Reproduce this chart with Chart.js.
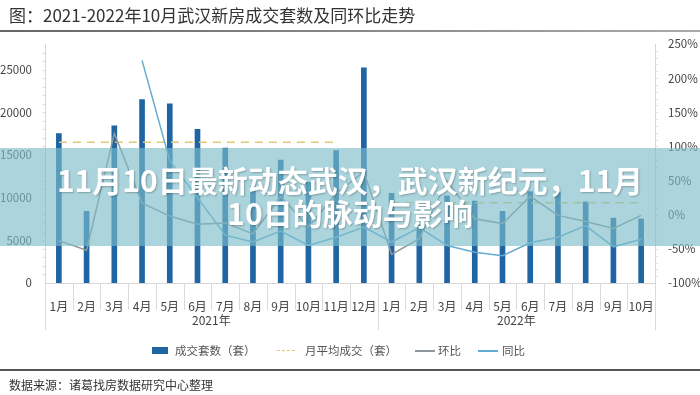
<!DOCTYPE html>
<html>
<head>
<meta charset="utf-8">
<script src="https://cdn.jsdelivr.net/npm/chart.js@4.4.0/dist/chart.umd.min.js"></script>
<style>
    body { margin: 0; background: #fff; font-family: "Noto Sans CJK SC", sans-serif; }
    #wrap { position: relative; width: 700px; height: 395px; overflow: hidden; }
    #chart { position: absolute; left: 0; top: 0; }
    #title { position: absolute; left: 9px; top: 4px; font-size: 17px; line-height: 22px; color: #333; }
    #rule1 { position: absolute; left: 0; top: 30px; width: 700px; height: 2px; background: linear-gradient(90deg, #666, #aaa); }
    #rule2 { position: absolute; left: 0; top: 369px; width: 700px; height: 2px; background: #555; }
    #source { position: absolute; left: 9px; top: 377px; font-size: 12px; line-height: 16px; color: #333; }
    .lg { position: absolute; top: 342px; font-size: 11.5px; line-height: 16px; color: #555; }
    .sw { position: absolute; }
    #banner { position: absolute; left: 0; top: 148px; width: 700px; height: 98px; background: rgba(123, 187, 200, 0.64);
              color: #fff; font-weight: bold; font-size: 30px; line-height: 33px; text-align: center;
              padding-top: 15px; box-sizing: border-box; text-shadow: 1px 1px 2px rgba(0,0,0,0.25); }
</style>
</head>
<body>
<div id="wrap">
    <canvas id="chart" width="700" height="395"></canvas>
    <div id="title">图：2021-2022年10月武汉新房成交套数及同环比走势</div>
    <div id="rule1"></div>

    <div class="sw" style="left:152px;top:347px;width:16px;height:7px;background:#1f65a3"></div>
    <div class="lg" style="left:175px">成交套数（套）</div>
    <div class="sw" style="left:277px;top:350px;width:18px;border-top:1.5px dashed #e3c878"></div>
    <div class="lg" style="left:305px">月平均成交（套）</div>
    <div class="sw" style="left:415px;top:350px;width:20px;height:1.5px;background:#8e969c"></div>
    <div class="lg" style="left:438px">环比</div>
    <div class="sw" style="left:478px;top:350px;width:20px;height:1.5px;background:#63acd0"></div>
    <div class="lg" style="left:502px">同比</div>

    <div id="rule2"></div>
    <div id="source">数据来源：诸葛找房数据研究中心整理</div>
    <div id="banner">11月10日最新动态武汉，武汉新纪元，11月<br>10日的脉动与影响</div>
</div>
<script>
    // categories
    const months2021 = ['1月', '2月', '3月', '4月', '5月', '6月', '7月', '8月', '9月', '10月', '11月', '12月'];
    const months2022 = ['1月', '2月', '3月', '4月', '5月', '6月', '7月', '8月', '9月', '10月'];
    const years = ['2021年', '2022年'];

    // 成交套数（套）
    const deals2021 = [17500, 8400, 18400, 21500, 21000, 18000, 15800, 11300, 14400, 11800, 15500, 25200];
    const deals2022 = [10500, 6800, 10200, 9600, 8400, 10700, 10600, 9500, 7600, 7500];

    // 月平均成交（套）
    const avg2021 = [16500, 16500, 16500, 16500, 16500, 16500, 16500, 16500, 16500, 16500, 16500, null];
    const avg2022 = [9400, 9400, 9400, 9400, 9400, 9400, 9400, 9400, 9400, 9400];

    // 环比 / 同比 (%)
    const hb2021 = [-38, -52, 119, 17, -2, -14, -12, -28, 27, -18, 31, 63];
    const hb2022 = [-58, -35, 50, -6, -13, 27, -1, -10, -20, -1];
    const tb2021 = [null, null, null, 226, 79, 25, -30, -40, -24, -45, -33, -18];
    const tb2022 = [-40, -19, -45, -55, -60, -41, -33, -16, -47, -36];

    // tick labels
    const leftTicks = [0, 5000, 10000, 15000, 20000, 25000];
    const rightTicks = [-100, -50, 0, 50, 100, 150, 200, 250];

    const labels = months2021.concat(months2022);
    const pad2021 = months2021.map(() => null);
    const pad2022 = months2022.map(() => null);

    const axisDecor = {
        id: 'axisDecor',
        afterDraw(chart) {
            const ctx = chart.ctx;
            const x = chart.scales.x;
            const yl = chart.scales.y;
            const yr = chart.scales.y1;
            const area = chart.chartArea;
            const step = x.getPixelForValue(1) - x.getPixelForValue(0);
            ctx.save();
            ctx.strokeStyle = '#dadada';
            ctx.lineWidth = 1;
            // separators under the months
            for (let i = 0; i <= labels.length; i++) {
                const px = Math.round(x.getPixelForValue(i) - step / 2) + 0.5;
                const edge = i === 0 || i === labels.length || i === months2021.length;
                ctx.beginPath();
                ctx.moveTo(px, area.bottom);
                ctx.lineTo(px, area.bottom + (edge ? 47 : 27));
                ctx.stroke();
            }
            // minor marks on both value axes
            ctx.strokeStyle = '#e2e2e2';
            for (let v = 1000; v < 28000; v += 1000) {
                const py = Math.round(yl.getPixelForValue(v)) + 0.5;
                ctx.beginPath(); ctx.moveTo(area.left - 3, py); ctx.lineTo(area.left, py); ctx.stroke();
            }
            for (let v = -90; v < 250; v += 10) {
                const py = Math.round(yr.getPixelForValue(v)) + 0.5;
                ctx.beginPath(); ctx.moveTo(area.right, py); ctx.lineTo(area.right + 3, py); ctx.stroke();
            }
            // year labels
            ctx.fillStyle = '#444';
            ctx.font = '12px "Noto Sans CJK SC"';
            ctx.textAlign = 'center';
            ctx.textBaseline = 'middle';
            const mid1 = (x.getPixelForValue(0) + x.getPixelForValue(months2021.length - 1)) / 2;
            const mid2 = (x.getPixelForValue(months2021.length) + x.getPixelForValue(labels.length - 1)) / 2;
            ctx.fillText(years[0], mid1, 320);
            ctx.fillText(years[1], mid2, 320);
            ctx.restore();
        }
    };

    new Chart(document.getElementById('chart'), {
        type: 'bar',
        data: {
            labels: labels,
            datasets: [
                {
                    type: 'line', label: '环比', yAxisID: 'y1', order: 1,
                    data: hb2021.concat(hb2022),
                    borderColor: '#8e969c', borderWidth: 1.5, pointRadius: 0, tension: 0
                },
                {
                    type: 'line', label: '同比', yAxisID: 'y1', order: 1,
                    data: tb2021.concat(tb2022),
                    borderColor: '#63acd0', borderWidth: 1.5, pointRadius: 0, tension: 0
                },
                {
                    type: 'line', label: '月平均成交（套）', yAxisID: 'y', order: 2,
                    data: avg2021.concat(pad2022),
                    borderColor: '#e3c878', borderWidth: 1.5, borderDash: [8, 6], pointRadius: 0
                },
                {
                    type: 'line', label: '月平均成交（套）2022', yAxisID: 'y', order: 2,
                    data: pad2021.concat(avg2022),
                    borderColor: '#e3c878', borderWidth: 1.5, borderDash: [8, 6], pointRadius: 0
                },
                {
                    label: '成交套数（套）', yAxisID: 'y', order: 3,
                    data: deals2021.concat(deals2022),
                    backgroundColor: '#1f65a3', barThickness: 5
                }
            ]
        },
        options: {
            responsive: false,
            animation: false,
            layout: { padding: { top: 44, left: 0, right: 0, bottom: 0 } },
            plugins: { legend: { display: false }, tooltip: { enabled: false } },
            scales: {
                x: {
                    afterFit: s => { s.height = 112; },
                    grid: { display: false },
                    border: { display: true, color: '#d6d6d6' },
                    ticks: { color: '#444', font: { size: 12, family: '"Noto Sans CJK SC"' }, padding: 8, maxRotation: 0, autoSkip: false }
                },
                y: {
                    position: 'left', min: 0, max: 28000,
                    afterFit: s => { s.width = 45; },
                    afterBuildTicks: s => { s.ticks = leftTicks.map(v => ({ value: v })); },
                    grid: { display: false },
                    border: { display: true, color: '#d6d6d6' },
                    ticks: { color: '#444', font: { size: 11.5, family: '"Noto Sans CJK SC"' }, padding: 5, callback: v => String(v) }
                },
                y1: {
                    position: 'right', min: -100, max: 250,
                    afterFit: s => { s.width = 45; },
                    afterBuildTicks: s => { s.ticks = rightTicks.map(v => ({ value: v })); },
                    grid: { display: false },
                    border: { display: true, color: '#d6d6d6' },
                    ticks: { color: '#444', font: { size: 11.5, family: '"Noto Sans CJK SC"' }, padding: 5, callback: v => v + '%' }
                }
            }
        },
        plugins: [axisDecor]
    });
</script>
</body>
</html>
